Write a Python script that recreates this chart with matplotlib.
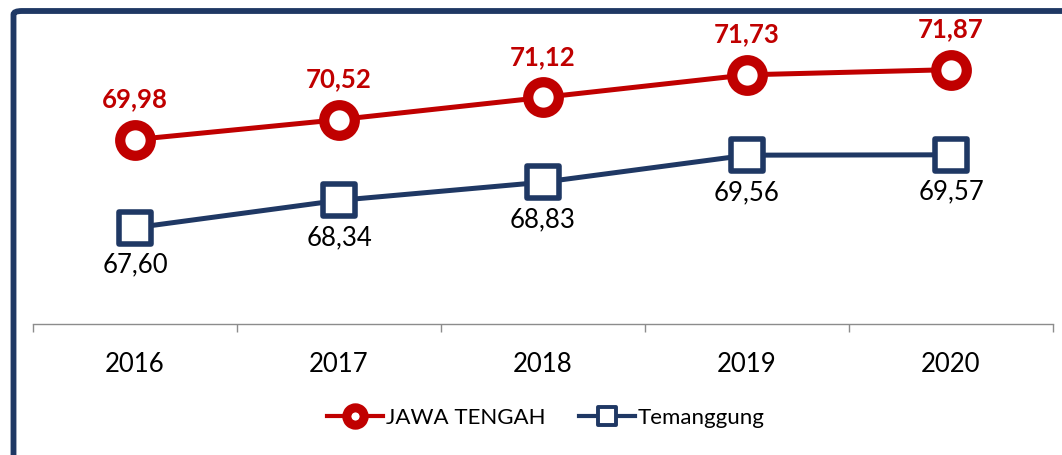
import matplotlib.pyplot as plt
from matplotlib.lines import Line2D
from matplotlib.markers import MarkerStyle
from matplotlib.patches import FancyBboxPatch

years = ["2016", "2017", "2018", "2019", "2020"]
jateng = [69.98, 70.52, 71.12, 71.73, 71.87]
temanggung = [67.60, 68.34, 68.83, 69.56, 69.57]
series_names = ["JAWA TENGAH", "Temanggung"]

red = "#C00000"
navy = "#1F3864"

plt.rcParams['font.family'] = ['Lato', 'DejaVu Sans']

fig = plt.figure(figsize=(10.62, 4.55), dpi=100)
ax = fig.add_axes([33 / 1062, 131 / 455, 1020 / 1062, 311 / 455])

x = list(range(len(years)))
circ = MarkerStyle('o')
sq = MarkerStyle('s', joinstyle='round')

ax.plot(x, temanggung, color=navy, lw=3.6, marker=sq, ms=22.5, mew=4,
        mfc='white', mec=navy, solid_capstyle='round', zorder=3)
ax.plot(x, jateng, color=red, lw=3.6, marker=circ, ms=22, mew=7.4,
        mfc='white', mec=red, solid_capstyle='round', zorder=3)

for xi, v in zip(x, jateng):
    ax.annotate(f"{v:.2f}".replace('.', ','), (xi, v), xytext=(0, 29),
                textcoords='offset points', ha='center', va='center',
                fontsize=18.5, fontweight='bold', color=red)
for xi, v in zip(x, temanggung):
    ax.annotate(f"{v:.2f}".replace('.', ','), (xi, v), xytext=(0, -27),
                textcoords='offset points', ha='center', va='center',
                fontsize=18.5, color='black')

ax.set_xlim(-0.5, len(years) - 0.5)
ax.set_ylim(65, 73.4)
ax.set_yticks([])
ax.set_xticks(x)
ax.set_xticklabels(years, fontsize=18.5)
ax.set_xticks([i - 0.5 for i in range(len(years) + 1)], minor=True)
ax.tick_params(axis='x', which='major', length=0, pad=20)
ax.tick_params(axis='x', which='minor', length=6, width=1, color='#8C8C8C')
for s in ['left', 'right', 'top']:
    ax.spines[s].set_visible(False)
ax.spines['bottom'].set_color('#8C8C8C')
ax.spines['bottom'].set_linewidth(1)

handles = [
    Line2D([], [], color=red, lw=3, marker='o', ms=12.5, mew=6.5, mfc='white', mec=red),
    Line2D([], [], color=navy, lw=3, marker=MarkerStyle('s', joinstyle='round'),
           ms=13.5, mew=2.8, mfc='white', mec=navy),
]
fig.legend(handles, series_names, loc='center', bbox_to_anchor=(546 / 1062, 1 - 418 / 455),
           ncol=2, frameon=False, fontsize=16, handlelength=2.5, handletextpad=0.15,
           columnspacing=1.5)

frame = FancyBboxPatch((13.5 / 1062, -0.1), 1.2, 1 - 11 / 455 + 0.1,
                       boxstyle="round,pad=0,rounding_size=0.008",
                       transform=fig.transFigure, fill=False, edgecolor=navy,
                       lw=4.2, zorder=10)
fig.patches.append(frame)

fig.savefig("out.png", dpi=100)
